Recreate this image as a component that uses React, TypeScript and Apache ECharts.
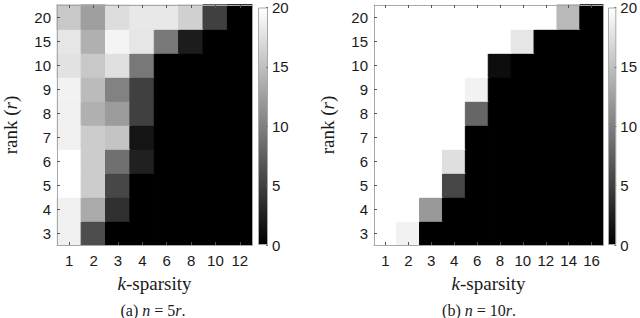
import React, { useEffect, useRef } from 'react';
import * as echarts from 'echarts';

const ranks = ['3', '4', '5', '6', '7', '8', '9', '10', '15', '20'];
const kA = ['1', '2', '3', '4', '6', '8', '10', '12'];
const kB = ['1', '2', '3', '4', '6', '8', '10', '12', '14', '16'];

// rows follow ranks (bottom to top), columns follow k
const valuesA: number[][] = [
  [18.8, 6, 0, 0, 0, 0, 0, 0],
  [18.8, 13.3, 3.8, 0, 0, 0, 0, 0],
  [20, 16, 5.6, 0, 0, 0, 0, 0],
  [20, 16, 8.8, 2.5, 0, 0, 0, 0],
  [18.8, 16, 15.4, 1.6, 0, 0, 0, 0],
  [18.8, 13.8, 12.2, 5, 0, 0, 0, 0],
  [19, 14.7, 10.2, 5, 0, 0, 0, 0],
  [17.7, 15.7, 17.6, 9.4, 0, 0, 0, 0],
  [18, 13.8, 19.1, 18, 9.4, 2.2, 0, 0],
  [15.7, 12.5, 17.3, 18.2, 18.2, 16.3, 5, 0],
];

const valuesB: number[][] = [
  [20, 19, 0, 0, 0, 0, 0, 0, 0, 0],
  [20, 20, 12, 0, 0, 0, 0, 0, 0, 0],
  [20, 20, 20, 5.5, 0, 0, 0, 0, 0, 0],
  [20, 20, 20, 17.5, 0, 0, 0, 0, 0, 0],
  [20, 20, 20, 20, 0, 0, 0, 0, 0, 0],
  [20, 20, 20, 20, 8, 0, 0, 0, 0, 0],
  [20, 20, 20, 20, 19, 0, 0, 0, 0, 0],
  [20, 20, 20, 20, 20, 1, 0, 0, 0, 0],
  [20, 20, 20, 20, 20, 20, 18, 0, 0, 0],
  [20, 20, 20, 20, 20, 20, 20, 20, 14.5, 0],
];

const colorbarTicks = [0, 5, 10, 15, 20];
const captionA = '(a) {i|n} = 5{i|r}.';
const captionB = '(b) {i|n} = 10{i|r}.';

const SANS = 'Liberation Sans, Arial, sans-serif';
const SERIF = 'Liberation Serif, Times New Roman, serif';
const TXT = '#1a1a1a';
const BOX = '#a8a8a8';
const VMAX = 20;

function grayOf(v: number) {
  const g = Math.round((v / VMAX) * 255);
  return `rgb(${g},${g},${g})`;
}

function toCells(vals: number[][]) {
  const out: any[] = [];
  vals.forEach((row, yi) =>
    row.forEach((v, xi) =>
      out.push({ value: [xi, yi, v], itemStyle: { borderColor: grayOf(v), borderWidth: 1 } })
    )
  );
  return out;
}

export default function App() {
  const ref = useRef<HTMLDivElement>(null);
  useEffect(() => {
    if (!ref.current) return;
    const chart = echarts.init(ref.current, undefined, { renderer: 'svg' });

    const grids = [
      { left: 47, top: 5, width: 205, height: 240 },
      { left: 258, top: 5, width: 10, height: 240 },
      { left: 374, top: 5, width: 229, height: 240 },
      { left: 608, top: 5, width: 10, height: 240 },
    ];

    const serifRich = {
      i: { fontStyle: 'italic', fontFamily: SERIF, fontSize: 19, color: TXT },
      n: { fontFamily: SERIF, fontSize: 19, color: TXT },
    };

    const heatX = (gi: number, cats: string[]) => [
      {
        type: 'category', gridIndex: gi, data: cats, position: 'bottom', z: 10,
        axisLine: { show: true, lineStyle: { color: BOX } },
        axisTick: { show: true, inside: true, length: 3, alignWithLabel: true, lineStyle: { color: '#555' } },
        axisLabel: { fontFamily: SANS, fontSize: 15, color: TXT, margin: 8, interval: 0 },
        name: '{i|k}{n|-sparsity}', nameLocation: 'middle', nameGap: 29,
        nameTextStyle: { fontFamily: SERIF, fontSize: 19, color: TXT, rich: serifRich },
      },
      {
        type: 'category', gridIndex: gi, data: cats, position: 'top', z: 10,
        axisLine: { show: true, lineStyle: { color: BOX } },
        axisTick: { show: true, inside: true, length: 3, alignWithLabel: true, lineStyle: { color: '#555' } },
        axisLabel: { show: false },
      },
    ];
    const heatY = (gi: number) => [
      {
        type: 'category', gridIndex: gi, data: ranks, position: 'left', z: 10,
        axisLine: { show: true, lineStyle: { color: BOX } },
        axisTick: { show: true, inside: true, length: 3, alignWithLabel: true, lineStyle: { color: '#555' } },
        axisLabel: { fontFamily: SANS, fontSize: 15, color: TXT, margin: 6 },
        name: '{n|rank (}{i|r}{n|)}', nameLocation: 'middle', nameGap: 37,
        nameTextStyle: { fontFamily: SERIF, fontSize: 19, color: TXT, rich: serifRich },
      },
      {
        type: 'category', gridIndex: gi, data: ranks, position: 'right', z: 10,
        axisLine: { show: true, lineStyle: { color: BOX } },
        axisTick: { show: false },
        axisLabel: { show: false },
      },
    ];
    const cbX = (gi: number) => ({
      type: 'category', gridIndex: gi, data: [''], show: false,
    });
    const cbY = (gi: number) => ({
      type: 'value', gridIndex: gi, min: colorbarTicks[0], max: colorbarTicks[colorbarTicks.length - 1],
      interval: colorbarTicks[1] - colorbarTicks[0], position: 'right', z: 10,
      axisLine: { show: false },
      axisTick: { show: true, inside: true, length: 2, lineStyle: { color: '#777' } },
      splitLine: { show: false },
      axisLabel: { fontFamily: SANS, fontSize: 15, color: TXT, margin: 4 },
    });

    const gradient = new echarts.graphic.LinearGradient(0, 1, 0, 0, [
      { offset: 0, color: '#000000' },
      { offset: 1, color: '#ffffff' },
    ]);

    const capRich = { i: { fontStyle: 'italic', fontFamily: SERIF, fontSize: 16, color: TXT } };

    chart.setOption({
      animation: false,
      grid: grids,
      xAxis: [...heatX(0, kA), cbX(1), ...heatX(2, kB), cbX(3)],
      yAxis: [...heatY(0), cbY(1), ...heatY(2), cbY(3)],
      visualMap: [
        { type: 'continuous', show: false, min: 0, max: VMAX, seriesIndex: 0, inRange: { color: ['#000000', '#ffffff'] } },
        { type: 'continuous', show: false, min: 0, max: VMAX, seriesIndex: 2, inRange: { color: ['#000000', '#ffffff'] } },
      ],
      series: [
        { type: 'heatmap', xAxisIndex: 0, yAxisIndex: 0, data: toCells(valuesA), z: 2 },
        {
          type: 'bar', xAxisIndex: 2, yAxisIndex: 2, data: [colorbarTicks[colorbarTicks.length - 1]],
          barWidth: '100%', itemStyle: { color: gradient, borderColor: BOX, borderWidth: 1 },
        },
        { type: 'heatmap', xAxisIndex: 3, yAxisIndex: 3, data: toCells(valuesB), z: 2 },
        {
          type: 'bar', xAxisIndex: 5, yAxisIndex: 5, data: [colorbarTicks[colorbarTicks.length - 1]],
          barWidth: '100%', itemStyle: { color: gradient, borderColor: BOX, borderWidth: 1 },
        },
      ],
      graphic: [
        {
          type: 'text', x: 153, y: 310,
          style: {
            text: captionA, align: 'center', verticalAlign: 'middle',
            fontFamily: SERIF, fontSize: 16, fill: TXT, rich: capRich,
          },
        },
        {
          type: 'text', x: 479, y: 310,
          style: {
            text: captionB, align: 'center', verticalAlign: 'middle',
            fontFamily: SERIF, fontSize: 16, fill: TXT, rich: capRich,
          },
        },
      ],
    });
    return () => chart.dispose();
  }, []);
  return (
    <div
      ref={ref}
      style={{ position: 'fixed', left: 0, top: 0, width: 640, height: 318, background: '#fff' }}
    />
  );
}
